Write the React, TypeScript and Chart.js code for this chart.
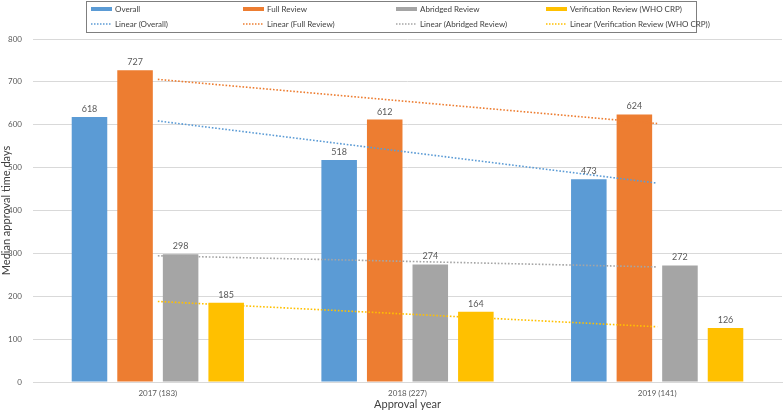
import React, { useEffect, useRef } from "react";
import { Chart, registerables } from "chart.js";

Chart.register(...registerables);

const categories = ["2017 (183)", "2018 (227)", "2019 (141)"];
const seriesNames = ["Overall", "Full Review", "Abridged Review", "Verification Review (WHO CRP)"];
const overall = [618, 518, 473];
const fullReview = [727, 612, 624];
const abridgedReview = [298, 274, 272];
const verificationReview = [185, 164, 126];
const colors = ["#5B9BD5", "#ED7D31", "#A5A5A5", "#FFC000"];
const yTicks = [0, 100, 200, 300, 400, 500, 600, 700, 800];

const FONT = "Lato, 'Open Sans', sans-serif";

function linearFit(vals: number[]): number[] {
  const n = vals.length;
  const xs = vals.map((_, i) => i + 1);
  const mx = xs.reduce((a, b) => a + b, 0) / n;
  const my = vals.reduce((a, b) => a + b, 0) / n;
  let num = 0;
  let den = 0;
  for (let i = 0; i < n; i++) {
    num += (xs[i] - mx) * (vals[i] - my);
    den += (xs[i] - mx) * (xs[i] - mx);
  }
  const slope = num / den;
  return xs.map((x) => my + slope * (x - mx));
}

const seriesValues = [overall, fullReview, abridgedReview, verificationReview];

const dataLabelPlugin = {
  id: "dataLabels",
  afterDatasetsDraw(chart: any) {
    const ctx = chart.ctx;
    ctx.save();
    ctx.font = `9px ${FONT}`;
    ctx.fillStyle = "#595959";
    ctx.textAlign = "center";
    ctx.textBaseline = "middle";
    chart.data.datasets.forEach((ds: any, i: number) => {
      if (ds.type !== "bar") return;
      const meta = chart.getDatasetMeta(i);
      meta.data.forEach((el: any, j: number) => {
        ctx.fillText(String(ds.data[j]), el.x, el.y - 8);
      });
    });
    ctx.restore();
  },
};

const legendPlugin = {
  id: "customLegend",
  afterDraw(chart: any) {
    const ctx = chart.ctx;
    ctx.save();
    const left = 86;
    const top = 1;
    const w = 610;
    const h = 31;
    ctx.strokeStyle = "#7F7F7F";
    ctx.lineWidth = 1;
    ctx.strokeRect(left + 0.5, top + 0.5, w, h);
    const colX = [91, 243, 396, 546];
    ctx.font = `8px ${FONT}`;
    ctx.fillStyle = "#404040";
    ctx.textBaseline = "middle";
    ctx.textAlign = "left";
    seriesNames.forEach((name, i) => {
      const x = colX[i];
      ctx.fillStyle = colors[i];
      ctx.fillRect(x, 7, 21, 4);
      ctx.fillStyle = "#404040";
      ctx.fillText(name, x + 24, 9.5);
      ctx.strokeStyle = colors[i];
      ctx.lineWidth = 1.5;
      ctx.setLineDash([1.5, 1.5]);
      ctx.beginPath();
      ctx.moveTo(x, 24);
      ctx.lineTo(x + 21, 24);
      ctx.stroke();
      ctx.setLineDash([]);
      ctx.fillText(`Linear (${name})`, x + 24, 24.5);
    });
    ctx.restore();
  },
};

export default function App() {
  const canvasRef = useRef<HTMLCanvasElement | null>(null);

  useEffect(() => {
    if (!canvasRef.current) return;
    const barSets = seriesNames.map((name, i) => ({
      type: "bar" as const,
      label: name,
      data: seriesValues[i],
      backgroundColor: colors[i],
      borderWidth: 0,
      order: 2,
      categoryPercentage: 0.73,
      barPercentage: 0.78,
    }));
    const lineSets = seriesNames.map((name, i) => ({
      type: "line" as const,
      label: `Linear (${name})`,
      data: linearFit(seriesValues[i]),
      borderColor: colors[i],
      borderWidth: 1.6,
      borderDash: [1.6, 1.8],
      pointRadius: 0,
      fill: false,
      order: 1,
    }));
    const chart = new Chart(canvasRef.current, {
      type: "bar",
      data: {
        labels: categories,
        datasets: [...barSets, ...lineSets] as any,
      },
      options: {
        animation: false,
        responsive: false,
        maintainAspectRatio: false,
        layout: { padding: { top: 39, right: 2, left: 0, bottom: 0 } },
        plugins: {
          legend: { display: false },
          tooltip: { enabled: false },
        },
        scales: {
          x: {
            grid: { display: false, drawTicks: false },
            border: { display: true, color: "#D9D9D9" },
            ticks: {
              color: "#595959",
              font: { family: FONT, size: 8 },
              padding: 7,
            },
            afterFit(axis: any) {
              axis.height = 29;
            },
            title: {
              display: true,
              text: "Approval year",
              color: "#404040",
              font: { family: FONT, size: 11 },
              padding: { top: 0, bottom: 0 },
            },
          },
          y: {
            min: 0,
            max: 800,
            afterBuildTicks(axis: any) {
              axis.ticks = yTicks.map((v) => ({ value: v }));
            },
            afterFit(axis: any) {
              axis.width = 33;
            },
            grid: { color: "#D9D9D9", drawTicks: false, lineWidth: 1 },
            border: { display: false },
            ticks: {
              color: "#595959",
              font: { family: FONT, size: 8 },
              padding: 11,
            },
            title: {
              display: true,
              text: "Median approval time days",
              color: "#404040",
              font: { family: FONT, size: 11 },
              padding: { top: 0, bottom: 0 },
            },
          },
        },
      },
      plugins: [dataLabelPlugin, legendPlugin],
    });
    return () => chart.destroy();
  }, []);

  return (
    <div style={{ position: "fixed", left: 0, top: 0, width: 784, height: 411, background: "#fff" }}>
      <canvas ref={canvasRef} width={784} height={411} style={{ width: 784, height: 411 }} />
    </div>
  );
}
